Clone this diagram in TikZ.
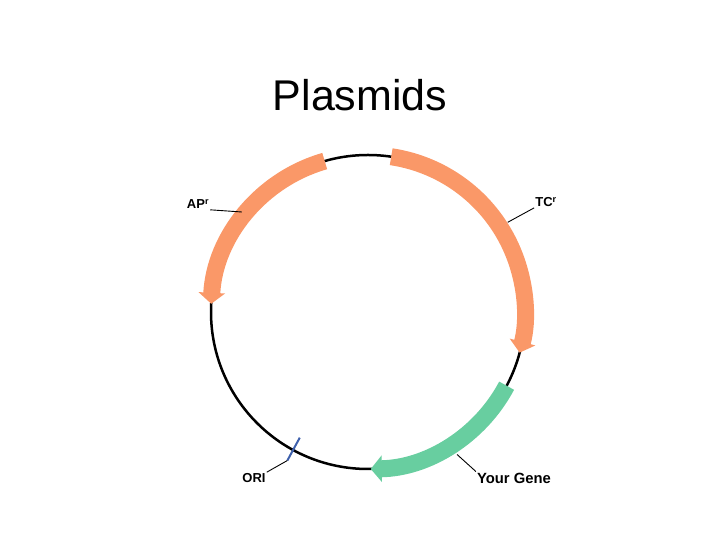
\documentclass[tikz,border=0pt]{standalone}
\usepackage{fontspec}
\setmainfont{Liberation Sans}
\usetikzlibrary{arrows.meta}
\definecolor{geneorange}{RGB}{250,152,104}
\definecolor{genegreen}{RGB}{104,206,160}
\definecolor{oriblue}{RGB}{62,96,172}
\begin{document}
\begin{tikzpicture}[x=1pt, y=1pt,
   gene/.style={line width=17pt, -{Triangle[width=26pt,length=11pt]}},
   lbl/.style={font=\bfseries\fontsize{13}{15}\selectfont, inner sep=1pt},
   lead/.style={line width=0.9pt}]
\useasboundingbox (0,0) rectangle (720,540);
\node[font=\fontsize{43}{48}\selectfont] (title) at (360,445) {Plasmids};
\coordinate (c) at (368,228);
\draw[line width=2.5pt] (c) circle[radius=157pt];
\draw[gene, geneorange] ([shift={(106:157pt)}]c) arc[start angle=106, end angle=177, radius=157pt];
\draw[gene, geneorange] ([shift={(81.5:157pt)}]c) arc[start angle=81.5, end angle=-15, radius=157pt];
\draw[gene, genegreen] ([shift={(-28:157pt)}]c) arc[start angle=-28, end angle=-89, radius=157pt];
\draw[line width=2pt, oriblue] ([shift={(241.5:143pt)}]c) coordinate (ori-in) -- ([shift={(241.5:169pt)}]c) coordinate (ori-out);
\coordinate (apr-pt) at ([shift={(141.6:161pt)}]c);
\coordinate (tcr-pt) at ([shift={(32.7:166pt)}]c);
\coordinate (gene-pt) at ([shift={(-58:168pt)}]c);
\node[lbl] (apr) at (198,336) {AP\textsuperscript{r}};
\node[lbl] (tcr) at (546,338) {TC\textsuperscript{r}};
\node[lbl] (ori) at (254,62) {ORI};
\node[lbl, font=\bfseries\fontsize{14.8}{17}\selectfont] (yourgene) at (514,62) {Your Gene};
\draw[lead] (apr.south east) -- (apr-pt);
\draw[lead] (tcr.south west) -- (tcr-pt);
\draw[lead] (ori.north east) -- (ori-out);
\draw[lead] (yourgene.north west) -- (gene-pt);
\end{tikzpicture}
\end{document}
